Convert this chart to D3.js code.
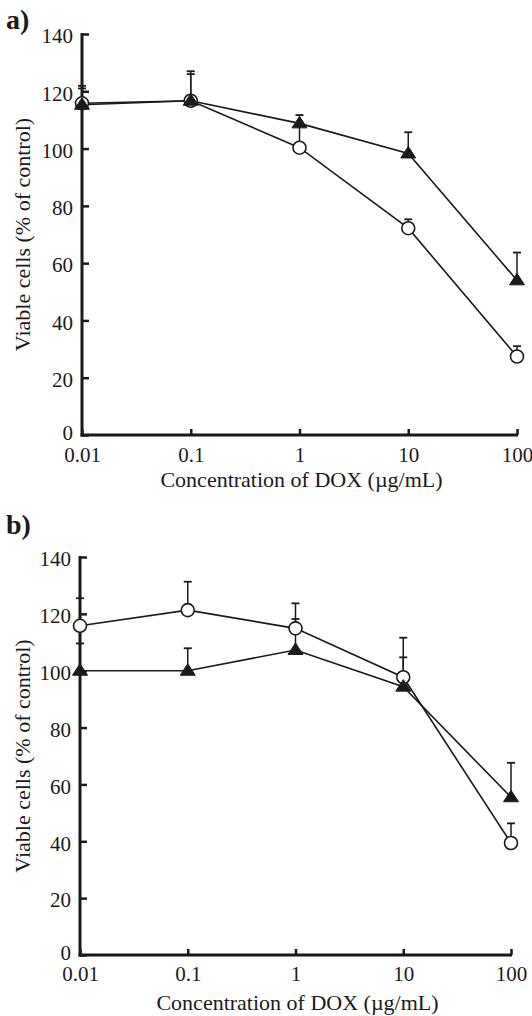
<!DOCTYPE html>
<html>
<head>
<meta charset="utf-8">
<script src="https://cdn.jsdelivr.net/npm/d3@7"></script>
<style>
  body { margin: 0; background: #fff; }
  text { font-family: "Liberation Serif", "Times New Roman", serif; fill: #1a1a1a; }
</style>
</head>
<body>
<svg id="chart" width="532" height="1016"></svg>
<script>
// concentrations of DOX (ug/mL) and tick labels
const concentrations = [0.01, 0.1, 1, 10, 100];
const xTickLabels = ["0.01", "0.1", "1", "10", "100"];
const yTicks = [0, 20, 40, 60, 80, 100, 120, 140];

// panel a
const aCircle = [115.8, 116.7, 100.3, 72.2, 27.4];
const aCircleSd = [6.1, 10.3, 7.7, 3.1, 3.6];
const aTriangle = [115.3, 116.7, 108.8, 98.3, 54];
const aTriangleSd = [5.7, 9.3, 2.9, 7.4, 9.7];

// panel b
const bCircle = [115.8, 121.3, 114.9, 97.7, 39.4];
const bCircleSd = [9.7, 10, 8.8, 13.9, 6.9];
const bTriangle = [100, 100, 107.3, 94.4, 55.5];
const bTriangleSd = [9.6, 7.9, 10.9, 10.3, 12.1];

const svg = d3.select("#chart");
const ink = "#1a1a1a";

function drawPanel(opts) {
  const x = d3.scaleLog().domain([0.01, 100]).range([opts.left, opts.right]);
  const y = d3.scaleLinear().domain([0, 140]).range([opts.bottom, opts.top]);
  const g = svg.append("g");

  // panel letter
  g.append("text")
    .attr("x", 6).attr("y", opts.labelY)
    .attr("font-size", 28).attr("font-weight", "bold")
    .text(opts.label);

  // y axis, ticks pointing inward
  const yAxis = g.append("g").attr("transform", `translate(${opts.left},0)`)
    .call(d3.axisLeft(y).tickValues(yTicks).tickSize(0).tickPadding(9));
  yAxis.select(".domain").remove();
  yAxis.selectAll("text").attr("font-size", 21)
    .attr("dy", d => d === 0 ? "0.2em" : "0.42em")
    .style("font-family", "Liberation Serif").attr("fill", ink);
  yAxis.selectAll(".tick").append("line")
    .attr("x1", 0).attr("x2", 7).attr("stroke", ink).attr("stroke-width", 2.5);

  // x axis, ticks pointing up
  const xAxis = g.append("g").attr("transform", `translate(0,${opts.bottom})`)
    .call(d3.axisBottom(x).tickValues(concentrations)
      .tickFormat((d, i) => xTickLabels[i]).tickSize(0));
  xAxis.select(".domain").remove();
  xAxis.selectAll("text").attr("font-size", 21).attr("y", opts.xLabelDy).attr("dy", 0)
    .style("font-family", "Liberation Serif").attr("fill", ink);
  xAxis.selectAll(".tick").append("line")
    .attr("y1", 0).attr("y2", -6).attr("stroke", ink).attr("stroke-width", 2.5);

  // axis lines
  g.append("line")
    .attr("x1", opts.left).attr("x2", opts.left)
    .attr("y1", y(0) + 1.5).attr("y2", y(140) - 1)
    .attr("stroke", ink).attr("stroke-width", 3);
  g.append("line")
    .attr("x1", opts.left - 1.5).attr("x2", x(100) + 1)
    .attr("y1", y(0)).attr("y2", y(0))
    .attr("stroke", ink).attr("stroke-width", 3);

  // axis titles
  g.append("text")
    .attr("x", (opts.left + opts.right) / 2 + 2).attr("y", opts.bottom + opts.titleDy)
    .attr("text-anchor", "middle").attr("font-size", 22)
    .text("Concentration of DOX (\u00b5g/mL)");
  g.append("text")
    .attr("transform", `translate(30,${(opts.top + opts.bottom) / 2}) rotate(-90)`)
    .attr("text-anchor", "middle").attr("font-size", 22)
    .text("Viable cells (% of control)");

  const circ = concentrations.map((c, i) => ({ c, v: opts.circle[i], sd: opts.circleSd[i] }));
  const tri = concentrations.map((c, i) => ({ c, v: opts.triangle[i], sd: opts.triangleSd[i] }));

  const line = d3.line().x(d => x(d.c)).y(d => y(d.v));

  // error bars (upper only)
  [circ, tri].forEach(series => {
    const eb = g.append("g").selectAll("g").data(series).join("g");
    eb.append("line")
      .attr("x1", d => x(d.c)).attr("x2", d => x(d.c))
      .attr("y1", d => y(d.v)).attr("y2", d => y(d.v + d.sd))
      .attr("stroke", ink).attr("stroke-width", 1.5);
    eb.append("line")
      .attr("x1", d => x(d.c) - 4).attr("x2", d => x(d.c) + 4)
      .attr("y1", d => y(d.v + d.sd)).attr("y2", d => y(d.v + d.sd))
      .attr("stroke", ink).attr("stroke-width", 1.8);
  });

  g.append("path").datum(circ).attr("d", line)
    .attr("fill", "none").attr("stroke", ink).attr("stroke-width", 1.6);
  g.append("path").datum(tri).attr("d", line)
    .attr("fill", "none").attr("stroke", ink).attr("stroke-width", 1.6);

  g.append("g").selectAll("circle").data(circ).join("circle")
    .attr("cx", d => x(d.c)).attr("cy", d => y(d.v)).attr("r", 6.5)
    .attr("fill", "#fff").attr("stroke", ink).attr("stroke-width", 1.6);

  g.append("g").selectAll("path").data(tri).join("path")
    .attr("transform", d => `translate(${x(d.c)},${y(d.v)})`)
    .attr("d", "M0,-7L7.5,4.5L-7.5,4.5Z")
    .attr("fill", ink).attr("stroke", ink).attr("stroke-width", 1);
}

drawPanel({ label: "a)", labelY: 29, left: 82, right: 517, top: 34, bottom: 435,
  xLabelDy: 27, titleDy: 52,
  circle: aCircle, circleSd: aCircleSd, triangle: aTriangle, triangleSd: aTriangleSd });
drawPanel({ label: "b)", labelY: 534, left: 80, right: 511, top: 557, bottom: 955,
  xLabelDy: 26, titleDy: 55,
  circle: bCircle, circleSd: bCircleSd, triangle: bTriangle, triangleSd: bTriangleSd });
</script>
</body>
</html>
